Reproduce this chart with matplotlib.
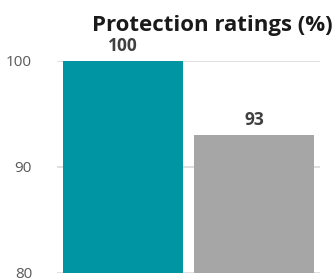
import matplotlib
matplotlib.use("Agg")
import matplotlib.pyplot as plt

categories = ["A", "B"]
values = [100, 93]
colors = ["#0095A3", "#A6A6A6"]
yticks = [80, 90, 100]
title = "Protection ratings (%)"

plt.rcParams['font.family'] = ['Open Sans', 'DejaVu Sans']

fig = plt.figure(figsize=(3.36, 2.78), dpi=100)
ax = fig.add_axes([57/336, 1-273/278, (320-57)/336, (273-61)/278])
x = range(len(categories))
bars = ax.bar(x, values, width=0.916, color=colors, zorder=3)
ax.set_xlim(-0.5, 1.5)
ax.set_ylim(80, 100)
ax.set_yticks(yticks)
ax.set_yticklabels([str(v) for v in yticks], fontsize=11, color="#595959")
ax.set_xticks([])
for s in ax.spines.values():
    s.set_visible(False)
ax.tick_params(axis='y', length=0, pad=18)
ax.yaxis.grid(True, color="#D9D9D9", linewidth=1.2, zorder=0)
for xi, v in zip(x, values):
    ax.text(xi, v + 0.6, str(v), ha='center', va='bottom', fontsize=12.5,
            fontweight='bold', color="#404040")
fig.text(212/336, 1-31/278, title, ha='center', va='baseline', fontsize=16,
         fontweight='bold', color="#1a1a1a")
fig.savefig("out.png", dpi=100)
